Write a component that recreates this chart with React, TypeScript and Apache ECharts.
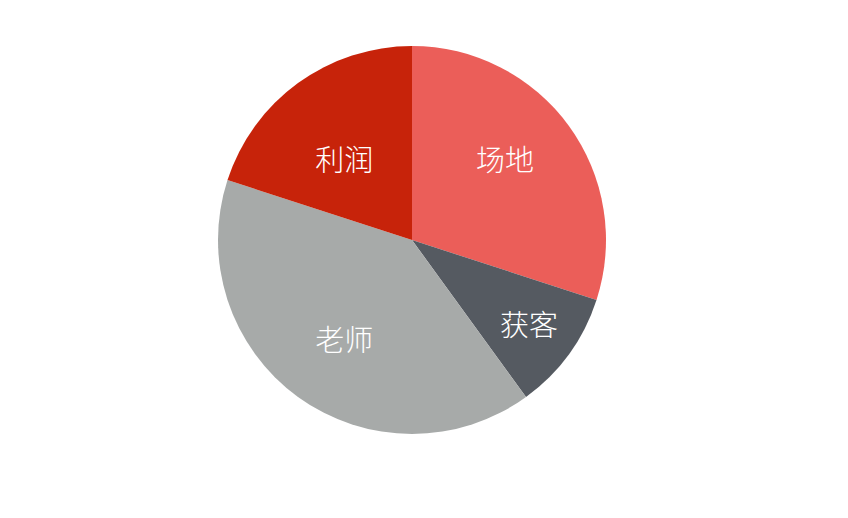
import React, { useEffect, useRef } from "react";
import * as echarts from "echarts";

const categories = ["场地", "获客", "老师", "利润"];
const values = [30, 10, 40, 20];
const colors = ["#EB5E59", "#555A61", "#A7AAA9", "#C7230A"];
const labelOffsets: [number, number][] = [
  [12, -23],
  [36, 24],
  [-9, 17],
  [-9, -1],
];

export default function App() {
  const ref = useRef<HTMLDivElement>(null);
  useEffect(() => {
    if (!ref.current) return;
    const chart = echarts.init(ref.current, undefined, { renderer: "svg" });
    chart.setOption({
      animation: false,
      backgroundColor: "#ffffff",
      series: [
        {
          type: "pie",
          center: [412, 240],
          radius: [0, 194],
          startAngle: 90,
          clockwise: true,
          silent: true,
          label: {
            show: true,
            position: "inside",
            color: "#ffffff",
            fontSize: 29,
            fontWeight: 300,
            fontFamily: "Noto Sans CJK SC",
          },
          labelLine: { show: false },
          itemStyle: { borderWidth: 0 },
          data: categories.map((name, i) => ({
            name,
            value: values[i],
            itemStyle: { color: colors[i] },
            label: { offset: labelOffsets[i] },
          })),
        },
      ],
    });
    return () => chart.dispose();
  }, []);
  return (
    <div
      ref={ref}
      style={{ position: "fixed", left: 0, top: 0, width: 848, height: 518 }}
    />
  );
}
